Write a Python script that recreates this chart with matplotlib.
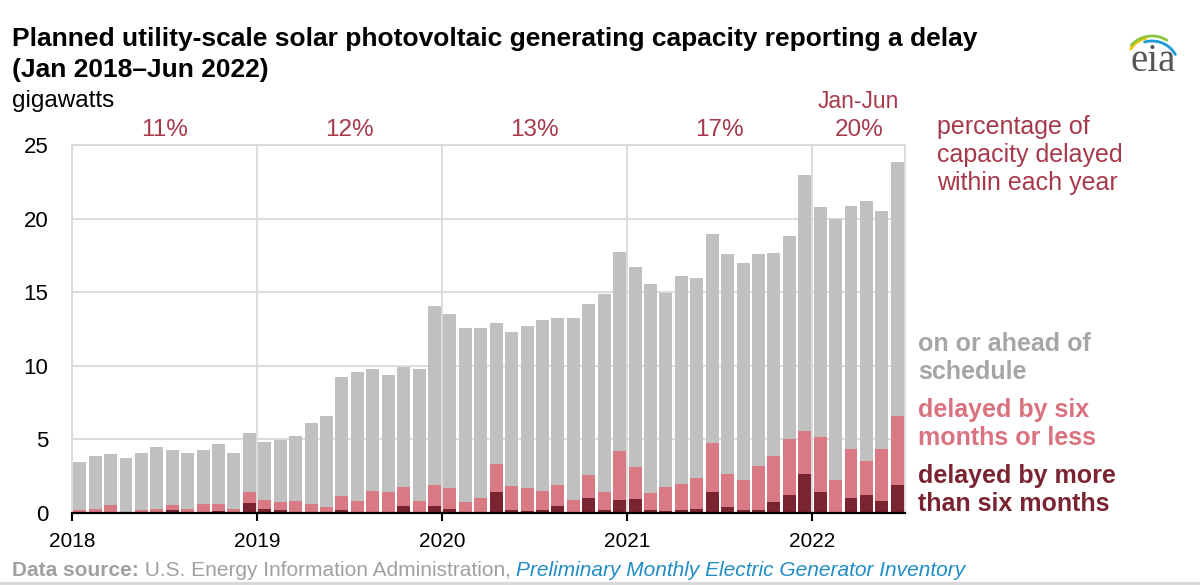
#!/usr/bin/env python3
"""Planned utility-scale solar PV capacity reporting a delay, Jan 2018 - Jun 2022."""

import numpy as np
import matplotlib
matplotlib.use('Agg')
import matplotlib.pyplot as plt
from matplotlib.lines import Line2D
import matplotlib.transforms as mtransforms

plt.rcParams['font.family'] = ['Liberation Sans', 'DejaVu Sans']

# monthly values, gigawatts (Jan 2018 .. Jun 2022)
total = [
    3.45, 3.9, 4.0, 3.75, 4.05, 4.45, 4.3, 4.05, 4.25, 4.7, 4.05, 5.45,
    4.85, 4.95, 5.2, 6.1, 6.6, 9.25, 9.6, 9.75, 9.4, 9.95, 9.75, 14.05,
    13.5, 12.58, 12.58, 12.93, 12.33, 12.72, 13.1, 13.22, 13.27, 14.2, 14.87, 17.75,
    16.72, 15.59, 14.95, 16.13, 15.97, 18.95, 17.62, 16.99, 17.57, 17.66, 18.84, 22.95,
    20.78, 19.99, 20.87, 21.19, 20.53, 23.87,
]
# delayed (any length) = top of the pink segment
delayed_any = [
    0.2, 0.3, 0.55, 0.05, 0.2, 0.3, 0.55, 0.25, 0.6, 0.6, 0.3, 1.45,
    0.86, 0.72, 0.81, 0.61, 0.43, 1.13, 0.79, 1.47, 1.4, 1.78, 0.81, 1.9,
    1.68, 0.77, 1.0, 3.34, 1.86, 1.72, 1.5, 1.93, 0.9, 2.57, 1.41, 4.21,
    3.1, 1.36, 1.79, 2.0, 2.36, 4.77, 2.66, 2.27, 3.16, 3.86, 5.01, 5.57,
    5.16, 2.25, 4.38, 3.54, 4.38, 6.59,
]
# delayed by more than six months
delayed_long = [
    0.0, 0.1, 0.1, 0.0, 0.05, 0.1, 0.2, 0.05, 0.1, 0.15, 0.05, 0.65,
    0.27, 0.2, 0.05, 0.0, 0.0, 0.2, 0.1, 0.0, 0.1, 0.5, 0.0, 0.47,
    0.25, 0.0, 0.0, 1.41, 0.22, 0.16, 0.18, 0.45, 0.0, 1.02, 0.2, 0.87,
    0.95, 0.22, 0.16, 0.22, 0.24, 1.43, 0.43, 0.22, 0.22, 0.77, 1.2, 2.62,
    1.41, 0.09, 1.02, 1.23, 0.82, 1.91,
]

years = ['2018', '2019', '2020', '2021', '2022']
year_pct = ['11%', '12%', '13%', '17%', '20%']
months_per_year = [12, 12, 12, 12, 6]

GRAY = '#c0c0c0'
PINK = '#d87983'
DARK = '#7a2431'
RED_TXT = '#a63a4b'


def fy(px):
    """Pixel row (from top) to figure fraction."""
    return 1 - px / 585


def main():
    fig = plt.figure(figsize=(12, 5.85), dpi=100)
    ax = fig.add_axes([72 / 1200, fy(513), (905 - 72) / 1200, (513 - 145) / 585])

    n = len(total)
    x = np.arange(n)
    w = 0.84
    ax.bar(x, total, width=w, color=GRAY, zorder=2)
    ax.bar(x, delayed_any, width=w, color=PINK, zorder=3)
    ax.bar(x, delayed_long, width=w, color=DARK, zorder=4)

    ax.set_xlim(-0.5, n - 0.5)
    ax.set_ylim(0, 25)

    # year boundaries
    starts = np.cumsum([0] + months_per_year[:-1]) - 0.5
    for s in starts[1:]:
        ax.axvline(s, color='#d9d9d9', lw=1.3, zorder=1)
    ax.set_xticks(starts)
    ax.set_xticklabels(years, fontsize=15)
    ax.tick_params(axis='x', length=6, width=1.5, color='black', pad=8)

    ax.set_yticks([0, 5, 10, 15, 20, 25])
    ax.tick_params(axis='y', length=0, pad=17, labelsize=16)
    ax.yaxis.grid(True, color='#d9d9d9', lw=1.3, zorder=1)
    ax.set_axisbelow(True)

    for side in ['left', 'top', 'right']:
        ax.spines[side].set_color('#d9d9d9')
        ax.spines[side].set_linewidth(1.3)
    ax.spines['bottom'].set_color('black')
    ax.spines['bottom'].set_linewidth(1.6)
    ax.spines['bottom'].set_zorder(5)

    # yearly percentages
    trans = mtransforms.blended_transform_factory(ax.transData, fig.transFigure)
    for s, m, pct in zip(starts, months_per_year, year_pct):
        ax.text(s + m / 2, fy(130), pct, transform=trans, ha='center', va='center',
                fontsize=17.5, color=RED_TXT)
    ax.text(starts[-1] + months_per_year[-1] / 2, fy(101), 'Jan-Jun', transform=trans,
            ha='center', va='center', fontsize=16.5, color=RED_TXT)

    # titles
    fig.text(12 / 1200, fy(46),
             'Planned utility-scale solar photovoltaic generating capacity reporting a delay',
             fontsize=19, fontweight='bold', ha='left', va='baseline')
    fig.text(12 / 1200, fy(77), '(Jan 2018\u2013Jun 2022)',
             fontsize=19, fontweight='bold', ha='left', va='baseline')
    fig.text(12 / 1200, fy(107), 'gigawatts', fontsize=17.5, ha='left', va='baseline')

    # right-hand labels
    fig.text(937 / 1200, fy(155), 'percentage of\ncapacity delayed\nwithin each year',
             fontsize=18, color=RED_TXT, ha='left', va='center', linespacing=1.2)
    fig.text(918 / 1200, fy(358), 'on or ahead of\nschedule', fontsize=18,
             fontweight='bold', color='#a6a6a6', ha='left', va='center', linespacing=1.22)
    fig.text(918 / 1200, fy(424), 'delayed by six\nmonths or less', fontsize=18,
             fontweight='bold', color='#d9737f', ha='left', va='center', linespacing=1.22)
    fig.text(918 / 1200, fy(490), 'delayed by more\nthan six months', fontsize=18,
             fontweight='bold', color=DARK, ha='left', va='center', linespacing=1.22)

    # source line, pieces chained left to right
    renderer = fig.canvas.get_renderer()
    xpos = 12 / 1200
    pieces = [
        ('Data source:', dict(fontweight='bold', color='#a0a0a0')),
        (' U.S. Energy Information Administration, ', dict(color='#a0a0a0')),
        ('Preliminary Monthly Electric Generator Inventory', dict(color='#1f8cc6', style='italic')),
    ]
    for txt, kw in pieces:
        t = fig.text(xpos, fy(570), txt, fontsize=15, ha='left', va='center', **kw)
        bb = t.get_window_extent(renderer)
        xpos = bb.x1 / fig.bbox.width

    fig.add_artist(Line2D([0, 1], [fy(583.5), fy(583.5)], transform=fig.transFigure,
                          color='#d9d9d9', lw=3))

    # eia logo
    fig.text(1153 / 1200, fy(71), 'eia', fontsize=28, color='#555555',
             family='Liberation Serif', ha='center', va='baseline')
    lax = fig.add_axes([1120 / 1200, fy(60), 60 / 1200, 32 / 585])
    lax.set_xlim(1120, 1180)
    lax.set_ylim(60, 28)
    lax.axis('off')
    arcs = [
        (1150, 60, 22, 150, 100, '#f2c300'),
        (1152, 64, 28, 138, 58, '#8cc63f'),
        (1152, 68, 27, 106, 30, '#1b9ad6'),
    ]
    for cx, cy, r, a0, a1, col in arcs:
        t = np.radians(np.linspace(a0, a1, 40))
        lax.plot(cx + r * np.cos(t), cy - r * np.sin(t), color=col, lw=2.0,
                 solid_capstyle='round')

    fig.savefig('out.png', dpi=100)
    plt.close(fig)


if __name__ == '__main__':
    main()
